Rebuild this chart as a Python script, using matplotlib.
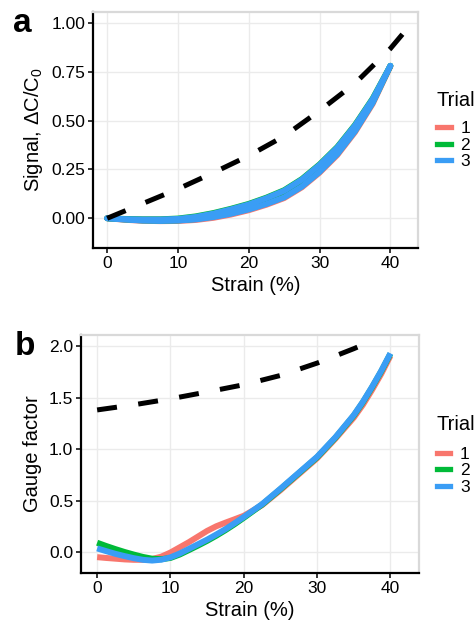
import numpy as np
import matplotlib
matplotlib.use("Agg")
import matplotlib.pyplot as plt
from matplotlib.lines import Line2D

plt.rcParams['font.family'] = ['Liberation Sans', 'DejaVu Sans']
plt.rcParams['mathtext.default'] = 'regular'

#
# Data
#

trials = ['1', '2', '3']
trial_colors = ['#F8766D', '#00BA38', '#3A9DF5']

# panel a: signal vs strain (loading / unloading branches per trial)
strain_a = [0, 2.5, 5, 7.5, 10, 12.5, 15, 17.5, 20, 22.5, 25, 27.5, 30, 32.5, 35, 37.5, 40]
sig1_load = [0, -0.008, -0.013, -0.015, -0.014, -0.009, 0.002, 0.019, 0.041, 0.069, 0.103, 0.158, 0.233, 0.323, 0.440, 0.585, 0.777]
sig1_unload = [0, -0.005, -0.007, -0.007, -0.005, 0.005, 0.021, 0.043, 0.068, 0.100, 0.138, 0.195, 0.270, 0.359, 0.472, 0.607, 0.777]
sig2_load = [0, -0.006, -0.011, -0.013, -0.011, -0.004, 0.009, 0.026, 0.048, 0.076, 0.110, 0.165, 0.240, 0.331, 0.448, 0.593, 0.780]
sig2_unload = [0, -0.003, -0.005, -0.005, -0.001, 0.010, 0.027, 0.049, 0.074, 0.106, 0.144, 0.201, 0.276, 0.365, 0.478, 0.613, 0.780]
sig3_load = [0, -0.007, -0.012, -0.014, -0.012, -0.006, 0.006, 0.023, 0.045, 0.073, 0.107, 0.162, 0.237, 0.328, 0.445, 0.590, 0.780]
sig3_unload = [0, -0.004, -0.006, -0.006, -0.003, 0.007, 0.024, 0.046, 0.071, 0.103, 0.141, 0.198, 0.273, 0.362, 0.475, 0.610, 0.780]

# theory (dashed)
strain_theory_a = [0, 5, 10, 15, 20, 25, 30, 35, 40, 42]
sig_theory = [0, 0.075, 0.15, 0.233, 0.32, 0.42, 0.55, 0.69, 0.868, 0.954]
strain_theory_b = [0, 5, 10, 15, 20, 25, 30, 35, 35.5]
gf_theory = [1.38, 1.43, 1.488, 1.555, 1.625, 1.715, 1.835, 1.975, 1.99]

# panel b: gauge factor vs strain
strain_b = [0, 1.25, 2.5, 3.75, 5, 6.25, 7.5, 8.75, 10, 11.25, 12.5, 13.75, 15, 16.25,
            17.5, 18.75, 20, 22.5, 25, 27.5, 30, 32.5, 35, 36.25, 37.5, 38.75, 40]
gf1 = [-0.05, -0.058, -0.065, -0.072, -0.076, -0.076, -0.068, -0.045, -0.005, 0.045, 0.095, 0.15,
       0.205, 0.25, 0.285, 0.318, 0.352, 0.455, 0.60, 0.755, 0.91, 1.10, 1.305, 1.43, 1.575, 1.73, 1.905]
gf2 = [0.09, 0.058, 0.028, 0.0, -0.025, -0.048, -0.065, -0.07, -0.058, -0.025, 0.018, 0.062,
       0.108, 0.158, 0.212, 0.27, 0.332, 0.46, 0.61, 0.765, 0.92, 1.11, 1.325, 1.455, 1.60, 1.755, 1.925]
gf3 = [0.035, 0.008, -0.018, -0.04, -0.06, -0.076, -0.083, -0.075, -0.052, -0.015, 0.03, 0.075,
       0.12, 0.17, 0.222, 0.28, 0.34, 0.465, 0.615, 0.77, 0.925, 1.115, 1.33, 1.46, 1.605, 1.76, 1.93]


def _style_axis(ax, xlim, ylim, yticks, yfmt):
    ax.set_xlim(*xlim)
    ax.set_ylim(*ylim)
    ax.set_xticks([0, 10, 20, 30, 40])
    ax.set_yticks(yticks)
    ax.set_yticklabels([yfmt.format(v) for v in yticks])
    ax.grid(True, color='#EBEBEB', lw=1.0)
    ax.set_axisbelow(True)
    for s in ['left', 'bottom']:
        ax.spines[s].set_color('black')
        ax.spines[s].set_linewidth(1.6)
    for s in ['top', 'right']:
        ax.spines[s].set_color('#D9D9D9')
        ax.spines[s].set_linewidth(1.6)
    ax.tick_params(direction='out', length=3.5, width=1.1, color='black',
                   labelsize=12.5, pad=2, labelcolor='black')
    ax.set_xlabel('Strain (%)', fontsize=14.5, labelpad=4)


def _legend(ax, x0, ytitle, ytop):
    handles = [Line2D([0], [0], color=c, lw=3.8) for c in trial_colors]
    ax.legend(handles, trials, loc='upper left', bbox_to_anchor=(x0, ytop),
              frameon=False, fontsize=12.5, handlelength=0.8, handletextpad=0.55,
              labelspacing=0.07, borderpad=0, borderaxespad=0)
    ax.text(x0, ytitle, 'Trial', transform=ax.transAxes, fontsize=14.5,
            ha='left', va='center', clip_on=False)


fig = plt.figure(figsize=(4.74, 6.23), dpi=100)

# panel a
ax1 = fig.add_axes([93/474, (623-248)/623, 325/474, 236/623])
sig_load = [sig1_load, sig2_load, sig3_load]
sig_unload = [sig1_unload, sig2_unload, sig3_unload]
for i in range(3):
    ax1.fill_between(strain_a, sig_load[i], sig_unload[i], color=trial_colors[i], lw=0)
    ax1.plot(strain_a, sig_load[i], color=trial_colors[i], lw=4.2, solid_capstyle='round')
    ax1.plot(strain_a, sig_unload[i], color=trial_colors[i], lw=4.2, solid_capstyle='round')
ax1.plot(strain_theory_a, sig_theory, color='black', lw=3.6, dashes=(4, 4.3), dash_capstyle='butt')
_style_axis(ax1, (-2.0, 43.9), (-0.152, 1.055), [0, 0.25, 0.5, 0.75, 1.0], '{:.2f}')
ax1.set_ylabel('Signal, ΔC/C$_0$', fontsize=14.5, labelpad=5)
_legend(ax1, 1.0575, 0.627, 0.537)

# panel b
ax2 = fig.add_axes([81/474, (623-573)/623, 338/474, 238/623])
gfs = [gf1, gf2, gf3]
for i in range(3):
    ax2.plot(strain_b, gfs[i], color=trial_colors[i], lw=4.3, solid_capstyle='butt')
ax2.plot(strain_theory_b, gf_theory, color='black', lw=3.6, dashes=(4, 4.3), dash_capstyle='butt')
_style_axis(ax2, (-2.2, 43.9), (-0.204, 2.108), [0, 0.5, 1.0, 1.5, 2.0], '{:.1f}')
ax2.set_ylabel('Gauge factor', fontsize=14.5, labelpad=5)
_legend(ax2, 1.052, 0.622, 0.53)

fig.text(13/474, 1 - 32/623, 'a', fontsize=24, fontweight='bold', va='baseline')
fig.text(15/474, 1 - 355/623, 'b', fontsize=24, fontweight='bold', va='baseline')

fig.savefig('out.png', dpi=100)
